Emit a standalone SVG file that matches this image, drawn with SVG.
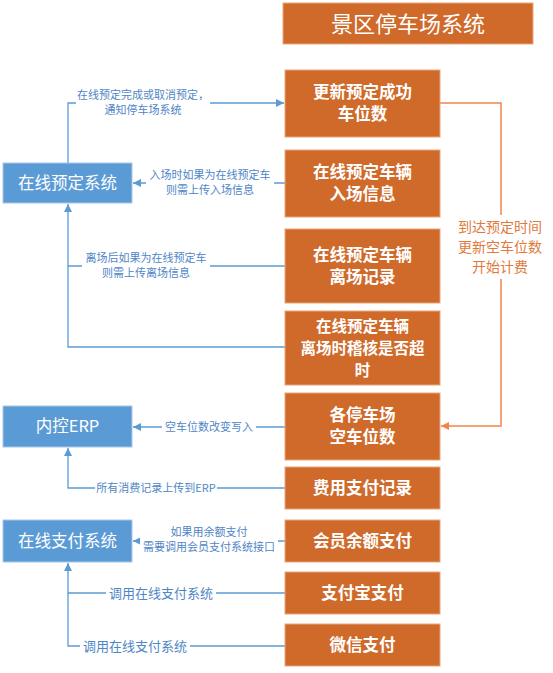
<svg xmlns="http://www.w3.org/2000/svg" width="553" height="673" viewBox="0 0 553 673">
<defs>
<style>
.on{fill:#CF6A2B;stroke:#E9A57C;stroke-width:1}
.bn{fill:#5B9BD5;stroke:#A9C8E8;stroke-width:1}
.ot{font-family:"Noto Sans CJK SC","Liberation Sans",sans-serif;font-size:16.5px;font-weight:bold;fill:#fff;text-anchor:middle}
.ot4{font-size:15.5px}
.bt{font-family:"Noto Sans CJK SC","Liberation Sans",sans-serif;font-size:16.5px;fill:#fff;text-anchor:middle}
.tt{font-family:"Noto Sans CJK SC","Liberation Sans",sans-serif;font-size:22px;fill:#fff;text-anchor:middle}
.bl{fill:none;stroke:#5B9BD5;stroke-width:1.3}
.ol{fill:none;stroke:#F0854A;stroke-width:1.5}
.lb{fill:#fff}
.lt{font-family:"Noto Sans CJK SC","Liberation Sans",sans-serif;font-size:11px;fill:#4F86C6;text-anchor:middle}
.lt2{font-family:"Noto Sans CJK SC","Liberation Sans",sans-serif;font-size:13px;fill:#4F86C6;text-anchor:middle}
.olt{font-family:"Noto Sans CJK SC","Liberation Sans",sans-serif;font-size:14px;fill:#E07A3C;text-anchor:middle}
</style>
<marker id="ab" markerUnits="userSpaceOnUse" markerWidth="9" markerHeight="8" refX="8" refY="4" orient="auto"><path d="M0,0 L8,4 L0,8 Z" fill="#5B9BD5"/></marker>
<marker id="ao" markerUnits="userSpaceOnUse" markerWidth="9" markerHeight="8" refX="8" refY="4" orient="auto"><path d="M0,0 L8,4 L0,8 Z" fill="#F0854A"/></marker>
</defs>
<rect width="553" height="673" fill="#fff"/>
<g id="connectors">
<path class="bl" d="M68,163 V103 H284" marker-end="url(#ab)"/>
<path class="bl" d="M285,183 H133" marker-end="url(#ab)"/>
<path class="bl" d="M285,266 H68"/>
<path class="bl" d="M285,347 H68 V204" marker-end="url(#ab)"/>
<path class="ol" d="M440,103 H501 V426 H441" marker-end="url(#ao)"/>
<path class="bl" d="M285,427 H133" marker-end="url(#ab)"/>
<path class="bl" d="M285,488 H68 V448" marker-end="url(#ab)"/>
<path class="bl" d="M285,541 H133" marker-end="url(#ab)"/>
<path class="bl" d="M285,593 H68 V563" marker-end="url(#ab)"/>
<path class="bl" d="M285,646 H68 V593"/>
<rect class="lb" x="76" y="87" width="134" height="31"/>
<text class="lt" x="143" y="99">在线预定完成或取消预定，</text>
<text class="lt" x="143" y="114">通知停车场系统</text>
<rect class="lb" x="146" y="167" width="128" height="29"/>
<text class="lt" x="210" y="179">入场时如果为在线预定车</text>
<text class="lt" x="210" y="194">则需上传入场信息</text>
<rect class="lb" x="82" y="250" width="128" height="29"/>
<text class="lt" x="146" y="262">离场后如果为在线预定车</text>
<text class="lt" x="146" y="277">则需上传离场信息</text>
<rect class="lb" x="455" y="215" width="92" height="64"/>
<text class="olt" x="500" y="232">到达预定时间</text>
<text class="olt" x="500" y="252">更新空车位数</text>
<text class="olt" x="500" y="272">开始计费</text>
<rect class="lb" x="162" y="420" width="94" height="14"/>
<text class="lt" x="209" y="431">空车位数改变写入</text>
<rect class="lb" x="95" y="481" width="122" height="14"/>
<text class="lt" x="156" y="492">所有消费记录上传到ERP</text>
<rect class="lb" x="140" y="524" width="138" height="30"/>
<text class="lt" x="209" y="536">如果用余额支付</text>
<text class="lt" x="209" y="551">需要调用会员支付系统接口</text>
<rect class="lb" x="106" y="585" width="110" height="16"/>
<text class="lt2" x="161" y="598">调用在线支付系统</text>
<rect class="lb" x="80" y="638" width="110" height="16"/>
<text class="lt2" x="135" y="651">调用在线支付系统</text>
</g>
<g id="title"><rect class="on" x="283" y="3" width="250" height="41"/><text class="tt" x="408" y="32">景区停车场系统</text></g>
<g id="n1"><rect class="on" x="285" y="70" width="155" height="67"/><text class="ot" x="362.5" y="98">更新预定成功</text><text class="ot" x="362.5" y="120">车位数</text></g>
<g id="n2"><rect class="on" x="285" y="150" width="155" height="67"/><text class="ot" x="362.5" y="178">在线预定车辆</text><text class="ot" x="362.5" y="200">入场信息</text></g>
<g id="n3"><rect class="on" x="285" y="229" width="155" height="74"/><text class="ot" x="362.5" y="261">在线预定车辆</text><text class="ot" x="362.5" y="283">离场记录</text></g>
<g id="n4"><rect class="on" x="285" y="311" width="155" height="74"/><text class="ot ot4" x="362.5" y="332">在线预定车辆</text><text class="ot ot4" x="362.5" y="354">离场时稽核是否超</text><text class="ot ot4" x="362.5" y="376">时</text></g>
<g id="n5"><rect class="on" x="285" y="393" width="155" height="67"/><text class="ot" x="362.5" y="421">各停车场</text><text class="ot" x="362.5" y="443">空车位数</text></g>
<g id="n6"><rect class="on" x="285" y="467" width="155" height="42"/><text class="ot" x="362.5" y="494">费用支付记录</text></g>
<g id="n7"><rect class="on" x="285" y="520" width="155" height="42"/><text class="ot" x="362.5" y="547">会员余额支付</text></g>
<g id="n8"><rect class="on" x="285" y="572" width="155" height="42"/><text class="ot" x="362.5" y="599">支付宝支付</text></g>
<g id="n9"><rect class="on" x="285" y="624" width="155" height="42"/><text class="ot" x="362.5" y="651">微信支付</text></g>
<g id="b1"><rect class="bn" x="3" y="163" width="129" height="40"/><text class="bt" x="67.5" y="189">在线预定系统</text></g>
<g id="b2"><rect class="bn" x="3" y="406" width="129" height="41"/><text class="bt" x="67.5" y="432">内控ERP</text></g>
<g id="b3"><rect class="bn" x="3" y="520" width="129" height="42"/><text class="bt" x="67.5" y="547">在线支付系统</text></g>
</svg>
